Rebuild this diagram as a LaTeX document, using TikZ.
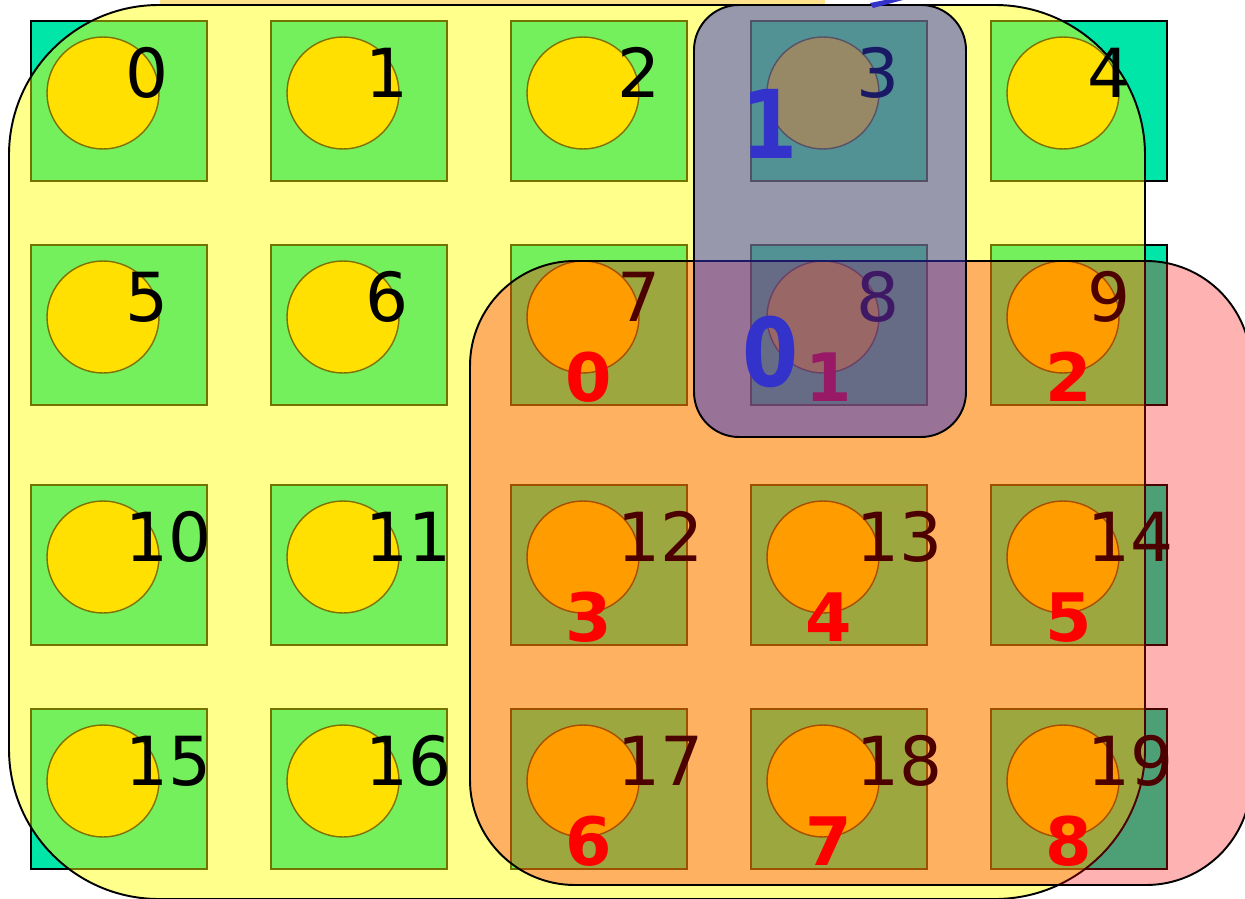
\documentclass[tikz,border=0pt]{standalone}
\usepackage{fontspec}
\setmainfont{DejaVu Sans}
\definecolor{cellteal}{RGB}{0,229,168}
\definecolor{vtxgold}{RGB}{255,224,0}
\definecolor{vtxedge}{RGB}{128,112,0}
\definecolor{partyellow}{RGB}{255,255,0}
\definecolor{partred}{RGB}{255,0,0}
\definecolor{partblue}{RGB}{51,51,204}
\definecolor{topband}{RGB}{255,226,140}

\tikzset{
  cellbox/.style={draw=black, fill=cellteal, line width=1.1pt, minimum width=3.52cm,
    minimum height=3.2cm, inner sep=0pt},
  vertex/.style={circle, draw=vtxedge, fill=vtxgold, line width=0.8pt,
    minimum size=2.24cm, inner sep=0pt},
  cellnum/.style={anchor=base west, inner sep=0pt, font=\fontsize{38.5}{40}\selectfont},
  redlabel/.style={anchor=base, inner sep=0pt, text=partred,
    font=\fontsize{38}{40}\selectfont\bfseries},
  bluelabel/.style={anchor=base, inner sep=0pt, text=partblue, xscale=0.85, transform shape,
    font=\fontsize{54}{56}\selectfont\bfseries}
}

\begin{document}
\begin{tikzpicture}[x=0.02cm, y=-0.02cm, line width=1.1pt]
  \useasboundingbox (0,0) rectangle (1245,899);

  % grid cells
  \foreach \y [count=\r from 0] in {21,245,485,709}
    \foreach \x [count=\c from 0] in {31,271,511,751,991} {
      \pgfmathtruncatemacro\idx{5*\r+\c}
      \node[cellbox] (cell\idx) at (\x+88,\y+80) {};
    }

  % yellow part
  \draw[fill=partyellow, fill opacity=0.45, rounded corners=3cm]
    (9,5) rectangle (1145,899);
  \fill[topband] (160,0) rectangle (825,4);

  % vertices and their numbers
  \foreach \y [count=\r from 0] in {21,245,485,709}
    \foreach \x/\dx [count=\c from 0] in {31/94,271/94,511/106,751/105,991/96} {
      \pgfmathtruncatemacro\idx{5*\r+\c}
      \node[vertex] (v\idx) at (\x+72,\y+72) {};
      \node[cellnum] (num\idx) at (\x+\dx,\y+76) {\idx};
    }

  % red part
  \draw[fill=partred, fill opacity=0.3, rounded corners=2.1cm]
    (470,261) rectangle (1251,885);
  \foreach \k/\x/\y in {0/511/245, 1/751/245, 2/991/245,
                        3/511/485, 4/751/485, 5/991/485,
                        6/511/709, 7/751/709, 8/991/709}
    \node[redlabel] (red\k) at (\x+78,\y+156) {\k};

  % blue part
  \draw[fill=partblue, fill opacity=0.5, rounded corners=0.9cm]
    (694,5) rectangle (966,437);
  \node[bluelabel] (blue1) at (770,158) {1};
  \node[bluelabel] (blue0) at (771,386) {0};
  \fill[partblue] (870,3) -- (873,8) -- (903,0) -- (885,0) -- cycle;
\end{tikzpicture}
\end{document}
